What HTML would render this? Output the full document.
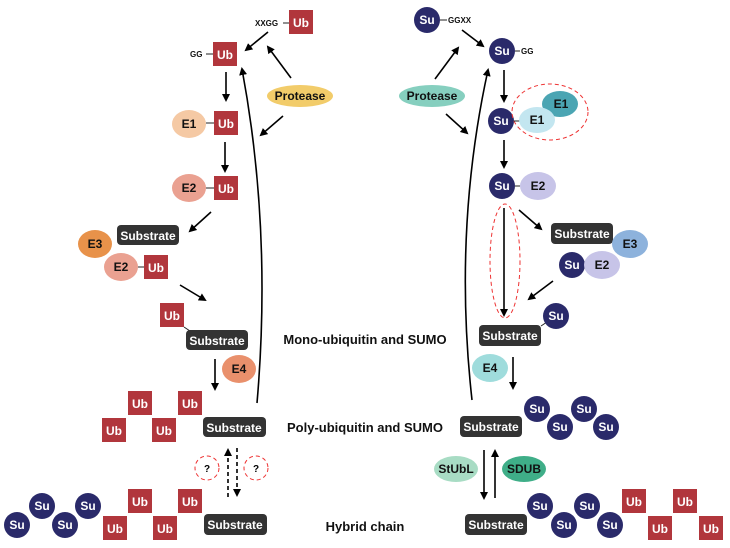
<!DOCTYPE html>
<html><head><meta charset="utf-8"><style>
body{margin:0;background:#fff}
svg{display:block}
text{font-family:"Liberation Sans",Arial,sans-serif;font-weight:bold}
.ub{fill:#b1363c}
.ubt{fill:#fff;font-size:12px;text-anchor:middle}
.su{fill:#2a2a6a}
.sub{fill:#333}
.subt{fill:#fff;font-size:12px;text-anchor:middle}
.et{fill:#111;font-size:12px;text-anchor:middle}
.ln{stroke:#000;stroke-width:1.6;fill:none}
.lk{stroke:#222;stroke-width:1;fill:none}
.rd{stroke:#e33;stroke-width:1;stroke-dasharray:4,3;fill:none}
.lbl{font-size:13px;fill:#111;text-anchor:middle}
</style></head><body>
<svg width="730" height="548" viewBox="0 0 730 548" xmlns="http://www.w3.org/2000/svg">
<defs><marker id="a" markerWidth="8" markerHeight="8" refX="6" refY="4" orient="auto" markerUnits="userSpaceOnUse"><path d="M0,0 L8,4 L0,8 z" fill="#000"/></marker></defs>

<!-- LEFT -->
<text x="255" y="26" font-size="8" fill="#111">XXGG</text><line class="lk" x1="283" y1="23" x2="289" y2="23"/>
<rect class="ub" x="289" y="10" width="24" height="24"/><text class="ubt" x="301" y="27">Ub</text>
<text x="190" y="57" font-size="8" fill="#111">GG</text><line class="lk" x1="206" y1="54" x2="213" y2="54"/>
<rect class="ub" x="213" y="42" width="24" height="24"/><text class="ubt" x="225" y="59">Ub</text>
<line class="ln" x1="268" y1="32" x2="246" y2="50" marker-end="url(#a)"/>
<line class="ln" x1="291" y1="78" x2="268" y2="47" marker-end="url(#a)"/>
<ellipse cx="300" cy="96" rx="33" ry="11" fill="#f2cc6a"/><text class="et" x="300" y="100">Protease</text>
<line class="ln" x1="283" y1="116" x2="261" y2="135" marker-end="url(#a)"/>
<line class="ln" x1="226" y1="72" x2="226" y2="100" marker-end="url(#a)"/>
<ellipse cx="189" cy="124" rx="17" ry="14" fill="#f5c9a4"/><text class="et" x="189" y="128">E1</text>
<line class="lk" x1="206" y1="123" x2="214" y2="123"/>
<rect class="ub" x="214" y="111" width="24" height="24"/><text class="ubt" x="226" y="128">Ub</text>
<line class="ln" x1="225" y1="142" x2="225" y2="171" marker-end="url(#a)"/>
<ellipse cx="189" cy="188" rx="17" ry="14" fill="#eaa191"/><text class="et" x="189" y="192">E2</text>
<line class="lk" x1="206" y1="188" x2="214" y2="188"/>
<rect class="ub" x="214" y="176" width="24" height="24"/><text class="ubt" x="226" y="193">Ub</text>
<line class="ln" x1="211" y1="212" x2="190" y2="231" marker-end="url(#a)"/>
<ellipse cx="95" cy="244" rx="17" ry="14" fill="#e8924a"/><text class="et" x="95" y="248">E3</text>
<rect class="sub" x="117" y="225" width="62" height="20" rx="4"/><text class="subt" x="148" y="240">Substrate</text>
<ellipse cx="121" cy="267" rx="17" ry="14" fill="#eaa191"/><text class="et" x="121" y="271">E2</text>
<line class="lk" x1="138" y1="267" x2="144" y2="267"/>
<rect class="ub" x="144" y="255" width="24" height="24"/><text class="ubt" x="156" y="272">Ub</text>
<line class="ln" x1="180" y1="285" x2="205" y2="300" marker-end="url(#a)"/>
<rect class="ub" x="160" y="303" width="24" height="24"/><text class="ubt" x="172" y="320">Ub</text>
<line class="lk" x1="184" y1="327" x2="190" y2="331"/>
<rect class="sub" x="186" y="330" width="62" height="20" rx="4"/><text class="subt" x="217" y="345">Substrate</text>
<line class="ln" x1="215" y1="359" x2="215" y2="389" marker-end="url(#a)"/>
<ellipse cx="239" cy="369" rx="17" ry="14" fill="#e9906c"/><text class="et" x="239" y="373">E4</text>
<path class="ln" d="M257,403 Q272,230 242,69" marker-end="url(#a)"/>
<!-- poly -->
<rect class="ub" x="102" y="418" width="24" height="24"/><text class="ubt" x="114" y="435">Ub</text>
<rect class="ub" x="128" y="391" width="24" height="24"/><text class="ubt" x="140" y="408">Ub</text>
<rect class="ub" x="152" y="418" width="24" height="24"/><text class="ubt" x="164" y="435">Ub</text>
<rect class="ub" x="178" y="391" width="24" height="24"/><text class="ubt" x="190" y="408">Ub</text>
<rect class="sub" x="203" y="417" width="63" height="20" rx="4"/><text class="subt" x="234" y="432">Substrate</text>
<line class="ln" x1="228" y1="497" x2="228" y2="450" stroke-dasharray="4,3" marker-end="url(#a)"/>
<line class="ln" x1="237" y1="448" x2="237" y2="495" stroke-dasharray="4,3" marker-end="url(#a)"/>
<circle class="rd" cx="207" cy="468" r="12"/><text x="207" y="472" font-size="10" text-anchor="middle">?</text>
<circle class="rd" cx="256" cy="468" r="12"/><text x="256" y="472" font-size="10" text-anchor="middle">?</text>
<!-- hybrid left -->
<circle class="su" cx="17" cy="525" r="13"/><text class="ubt" x="17" y="529">Su</text>
<circle class="su" cx="42" cy="506" r="13"/><text class="ubt" x="42" y="510">Su</text>
<circle class="su" cx="65" cy="525" r="13"/><text class="ubt" x="65" y="529">Su</text>
<circle class="su" cx="88" cy="506" r="13"/><text class="ubt" x="88" y="510">Su</text>
<rect class="ub" x="103" y="516" width="24" height="24"/><text class="ubt" x="115" y="533">Ub</text>
<rect class="ub" x="128" y="489" width="24" height="24"/><text class="ubt" x="140" y="506">Ub</text>
<rect class="ub" x="153" y="516" width="24" height="24"/><text class="ubt" x="165" y="533">Ub</text>
<rect class="ub" x="178" y="489" width="24" height="24"/><text class="ubt" x="190" y="506">Ub</text>
<rect class="sub" x="204" y="514" width="63" height="21" rx="4"/><text class="subt" x="235" y="529">Substrate</text>

<text class="lbl" x="365" y="344">Mono-ubiquitin and SUMO</text>
<text class="lbl" x="365" y="432">Poly-ubiquitin and SUMO</text>
<text class="lbl" x="365" y="531">Hybrid chain</text>

<!-- RIGHT -->
<circle class="su" cx="427" cy="20" r="13"/><text class="ubt" x="427" y="24">Su</text>
<line class="lk" x1="440" y1="20" x2="447" y2="20"/><text x="448" y="23" font-size="8" fill="#111">GGXX</text>
<line class="ln" x1="462" y1="30" x2="483" y2="46" marker-end="url(#a)"/>
<circle class="su" cx="502" cy="51" r="13"/><text class="ubt" x="502" y="55">Su</text>
<line class="lk" x1="515" y1="51" x2="520" y2="51"/><text x="521" y="54" font-size="8" fill="#111">GG</text>
<ellipse cx="432" cy="96" rx="33" ry="11" fill="#86cfbf"/><text class="et" x="432" y="100">Protease</text>
<line class="ln" x1="435" y1="79" x2="458" y2="48" marker-end="url(#a)"/>
<line class="ln" x1="446" y1="114" x2="467" y2="133" marker-end="url(#a)"/>
<line class="ln" x1="504" y1="70" x2="504" y2="101" marker-end="url(#a)"/>
<circle class="su" cx="501" cy="121" r="13"/><text class="ubt" x="501" y="125">Su</text>
<ellipse class="rd" cx="550" cy="112" rx="38" ry="28"/>
<ellipse cx="560" cy="104" rx="18" ry="13" fill="#4ba5b3"/><text class="et" x="561" y="108">E1</text>
<line class="lk" x1="514" y1="121" x2="520" y2="121"/>
<ellipse cx="537" cy="120" rx="18" ry="13" fill="#c3e6f0"/><text class="et" x="537" y="124">E1</text>
<line class="ln" x1="504" y1="140" x2="504" y2="167" marker-end="url(#a)"/>
<circle class="su" cx="502" cy="186" r="13"/><text class="ubt" x="502" y="190">Su</text>
<line class="lk" x1="515" y1="186" x2="520" y2="186"/>
<ellipse cx="538" cy="186" rx="18" ry="14" fill="#c7c4e8"/><text class="et" x="538" y="190">E2</text>
<ellipse class="rd" cx="505" cy="261" rx="15" ry="57"/>
<line class="ln" x1="504" y1="208" x2="504" y2="315" marker-end="url(#a)"/>
<line class="ln" x1="519" y1="210" x2="541" y2="229" marker-end="url(#a)"/>
<rect class="sub" x="551" y="223" width="62" height="21" rx="4"/><text class="subt" x="582" y="238">Substrate</text>
<ellipse cx="630" cy="244" rx="18" ry="14" fill="#8db2dc"/><text class="et" x="630" y="248">E3</text>
<circle class="su" cx="572" cy="265" r="13"/><text class="ubt" x="572" y="269">Su</text>
<ellipse cx="602" cy="265" rx="18" ry="14" fill="#c7c4e8"/><text class="et" x="602" y="269">E2</text>
<line class="ln" x1="553" y1="281" x2="529" y2="299" marker-end="url(#a)"/>
<rect class="sub" x="479" y="325" width="62" height="21" rx="4"/><text class="subt" x="510" y="340">Substrate</text>
<line class="lk" x1="541" y1="326" x2="547" y2="322"/>
<circle class="su" cx="556" cy="316" r="13"/><text class="ubt" x="556" y="320">Su</text>
<ellipse cx="490" cy="368" rx="18" ry="14" fill="#9fdcdc"/><text class="et" x="490" y="372">E4</text>
<line class="ln" x1="513" y1="357" x2="513" y2="388" marker-end="url(#a)"/>
<path class="ln" d="M472,400 Q453,230 488,70" marker-end="url(#a)"/>
<rect class="sub" x="460" y="416" width="62" height="21" rx="4"/><text class="subt" x="491" y="431">Substrate</text>
<circle class="su" cx="537" cy="409" r="13"/><text class="ubt" x="537" y="413">Su</text>
<circle class="su" cx="560" cy="427" r="13"/><text class="ubt" x="560" y="431">Su</text>
<circle class="su" cx="584" cy="409" r="13"/><text class="ubt" x="584" y="413">Su</text>
<circle class="su" cx="606" cy="427" r="13"/><text class="ubt" x="606" y="431">Su</text>
<ellipse cx="456" cy="469" rx="22" ry="13" fill="#a8dcc4"/><text class="et" x="456" y="473">StUbL</text>
<ellipse cx="524" cy="469" rx="22" ry="13" fill="#3fae88"/><text class="et" x="524" y="473">SDUB</text>
<line class="ln" x1="484" y1="450" x2="484" y2="498" marker-end="url(#a)"/>
<line class="ln" x1="495" y1="498" x2="495" y2="451" marker-end="url(#a)"/>
<rect class="sub" x="465" y="514" width="62" height="21" rx="4"/><text class="subt" x="496" y="529">Substrate</text>
<circle class="su" cx="540" cy="506" r="13"/><text class="ubt" x="540" y="510">Su</text>
<circle class="su" cx="564" cy="525" r="13"/><text class="ubt" x="564" y="529">Su</text>
<circle class="su" cx="587" cy="506" r="13"/><text class="ubt" x="587" y="510">Su</text>
<circle class="su" cx="610" cy="525" r="13"/><text class="ubt" x="610" y="529">Su</text>
<rect class="ub" x="622" y="489" width="24" height="24"/><text class="ubt" x="634" y="506">Ub</text>
<rect class="ub" x="648" y="516" width="24" height="24"/><text class="ubt" x="660" y="533">Ub</text>
<rect class="ub" x="673" y="489" width="24" height="24"/><text class="ubt" x="685" y="506">Ub</text>
<rect class="ub" x="699" y="516" width="24" height="24"/><text class="ubt" x="711" y="533">Ub</text>
</svg>
</body></html>
